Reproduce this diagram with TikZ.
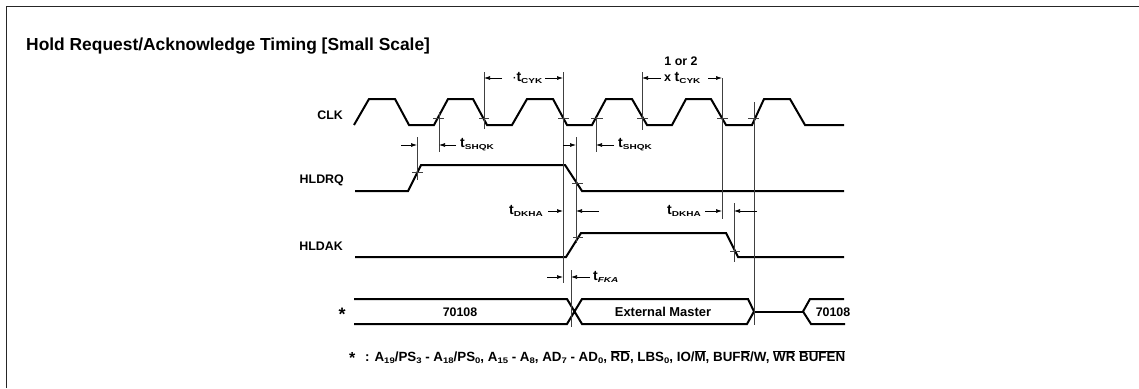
\documentclass[tikz,border=0pt]{standalone}
\usepackage{graphicx}
\usepackage{fontspec}
\setmainfont{Liberation Sans}
\usetikzlibrary{arrows.meta}
\tikzset{
 wave/.style={line width=2pt,line join=miter},
 guide/.style={line width=0.7pt,black!75},
 dim/.style={line width=0.7pt,-{Latex[length=6pt,width=4pt]}},
 lab/.style={font=\bfseries\fontsize{12.4}{14}\selectfont,inner sep=0pt},
 tim/.style={font=\bfseries,inner sep=0pt},
 frameline/.style={line width=1pt,black!85},
}
\newcommand{\tmsub}[1]{{\fontsize{14}{14}\selectfont t}\raisebox{-2pt}{\scalebox{1}[0.72]{\fontsize{10}{10}\selectfont #1}}}
\newcommand{\fs}[1]{\raisebox{-2.5pt}{\scalebox{1}[0.85]{\fontsize{9.5}{9.5}\selectfont #1}}}
\newcommand{\ovl}[1]{$\overline{\mbox{#1}}$}
\begin{document}
\begin{tikzpicture}[x=1pt,y=-1pt]
\useasboundingbox (0,0) rectangle (1139,388);
\fill[white] (0,0) rectangle (1139,388);
\draw[frameline] (6,388) -- (6,6) -- (1139,6);
\node[anchor=west,font=\bfseries\fontsize{17.4}{19}\selectfont,inner sep=0pt] (title) at (26,46) {Hold Request/Acknowledge Timing [Small Scale]};
% signal names
\node[lab,anchor=east] (clk) at (343,115) {CLK};
\node[lab,anchor=east] (rq) at (344,180) {HLDRQ};
\node[lab,anchor=east] (ak) at (343,246) {HLDAK};
\node[lab,font=\bfseries\fontsize{18}{18}\selectfont] (st) at (342,314) {*};
% waveforms
\draw[wave] (354,125) -- (369,99) -- (395,99) -- (409,125) -- (434,125) -- (448,99) -- (473,99) -- (487,125) -- (512,125) -- (527,99) -- (553,99) -- (567,125) -- (592,125) -- (606,99) -- (632,99) -- (647,125) -- (672,125) -- (686,99) -- (711,99) -- (726,125) -- (752,125) -- (764,99) -- (790,99) -- (805,125) -- (844,125);
\draw[wave] (355,191) -- (408,191) -- (421,165) -- (565,165) -- (582,191) -- (844,191);
\draw[wave] (355,257) -- (566,257) -- (581,233) -- (726,233) -- (738,257) -- (844,257);
\draw[wave] (354,299) -- (567,299) -- (582,324) -- (747,324) -- (754,311.5) -- (748,299) -- (582,299) -- (567,324) -- (354,324);
\draw[wave] (754,311.5) -- (803,311.5);
\draw[wave] (844,299) -- (810,299) -- (803,311.5) -- (811,324) -- (845,324);
% guide lines with crossing ticks
\foreach \x/\a/\b in {417/137/180,439/112/152,484/72/129,563/72/283,576/137/243,596/117/152,642/72/130,722/78/219,754/102/325,734/203/262,571/270/327}{\draw[guide] (\x,\a) -- (\x,\b);}
\foreach \a/\b/\y in {412/423/172,433/444/118,479/489/118,558/569/118,572/583/183,573/583/237,591/603/118,637/648/118,717/728/118,748/759/118,730/740/251}{\draw[guide] (\a,\y) -- (\b,\y);}
% timing labels
\node[tim,anchor=west] (cyk1) at (513,78) {\textperiodcentered\tmsub{CYK}};
\draw[dim] (502,78) -- (484,78);
\draw[dim] (545,78) -- (563,78);
\node[tim,anchor=west] (shqk1) at (460,145) {\tmsub{SHQK}};
\draw[dim] (401,145) -- (417,145);
\draw[dim] (456,145) -- (439,145);
\draw[dim] (563,145) -- (576,145);
\node[tim,anchor=west] (shqk2) at (618,145) {\tmsub{SHQK}};
\draw[dim] (614,145) -- (596,145);
\node[lab] (oneor) at (681,61) {1 or 2};
\node[tim,anchor=west] (cyk2) at (664,78) {{\fontsize{12.5}{14}\selectfont x }\tmsub{CYK}};
\draw[dim] (661,78) -- (642,78);
\draw[dim] (708,78) -- (722,78);
\node[tim,anchor=west] (dkha1) at (509,211) {\tmsub{DKHA}};
\draw[dim] (548,211) -- (563,211);
\draw[dim] (599,211) -- (576,211);
\node[tim,anchor=west] (dkha2) at (667,211) {\tmsub{DKHA}};
\draw[dim] (705,211) -- (722,211);
\draw[dim] (757,211) -- (734,211);
\node[tim,anchor=west] (fka) at (593,277) {\tmsub{\itshape FKA}};
\draw[dim] (547,277) -- (563,277);
\draw[dim] (590,277) -- (571,277);
% bus labels
\node[lab] (m1) at (460,312) {70108};
\node[lab,font=\bfseries\fontsize{12.9}{14}\selectfont] (em) at (663,312) {External Master};
\node[lab] (m2) at (833,312) {70108};
% footnote
\node[lab,anchor=west,font=\bfseries\fontsize{16}{16}\selectfont] (fnstar) at (349,358) {*};
\node[lab,anchor=west,font=\bfseries\fontsize{13.35}{15}\selectfont] (fn) at (365,357) {: A\fs{19}/PS\fs{3} - A\fs{18}/PS\fs{0}, A\fs{15} - A\fs{8}, AD\fs{7} - AD\fs{0}, \ovl{RD}, LBS\fs{0}, IO/\ovl{M}, BUF\ovl{R}/W, \ovl{WR} \ovl{BUFEN}};
\end{tikzpicture}
\end{document}
